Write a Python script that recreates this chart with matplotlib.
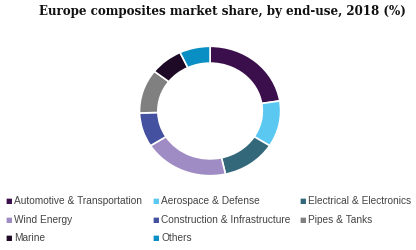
import matplotlib.pyplot as plt

# end-use segments, clockwise from 12 o'clock
labels = ["Automotive & Transportation", "Aerospace & Defense", "Electrical & Electronics",
          "Wind Energy", "Construction & Infrastructure", "Pipes & Tanks", "Marine", "Others"]
shares = [22.5, 11.5, 12.5, 19.5, 8.5, 11.0, 7.5, 7.0]
colors = ["#3b0f4c", "#5bc8f2", "#33687a", "#a08cc4", "#4450a0", "#808080", "#1e0a26", "#0a8fc4"]

W, H = 416, 250
fig = plt.figure(figsize=(W / 100, H / 100), dpi=100)
fig.text(222 / W, 1 - 12 / H, "Europe composites market share, by end-use, 2018 (%)",
         ha="center", va="center", family="DejaVu Serif", weight="bold", fontsize=8.6, color="#111111")

ax = fig.add_axes([0.332, 0.292, 0.346, 0.528])
ax.pie(shares, colors=colors, startangle=90, counterclock=False,
       wedgeprops=dict(width=0.26, edgecolor="white", linewidth=1.2))
ax.set_aspect("auto")
ax.set_xlim(-1.02, 1.02)
ax.set_ylim(-1.02, 1.02)
ax.axis("off")

# legend laid out by hand: 3 columns, rows filled left to right
col_x = [5, 152, 299]
row_y = [201, 220, 238]
for i, (lab, c) in enumerate(zip(labels, colors)):
    x = col_x[i % 3]
    y = row_y[i // 3]
    fig.text(x / W, 1 - y / H, "\u25a0", color=c, fontsize=5, ha="left", va="center",
             family="DejaVu Sans")
    fig.text((x + 9) / W, 1 - y / H, lab, color="#444444", fontsize=7.3, ha="left", va="center",
             family="Liberation Sans")

fig.savefig("out.png", dpi=100)
